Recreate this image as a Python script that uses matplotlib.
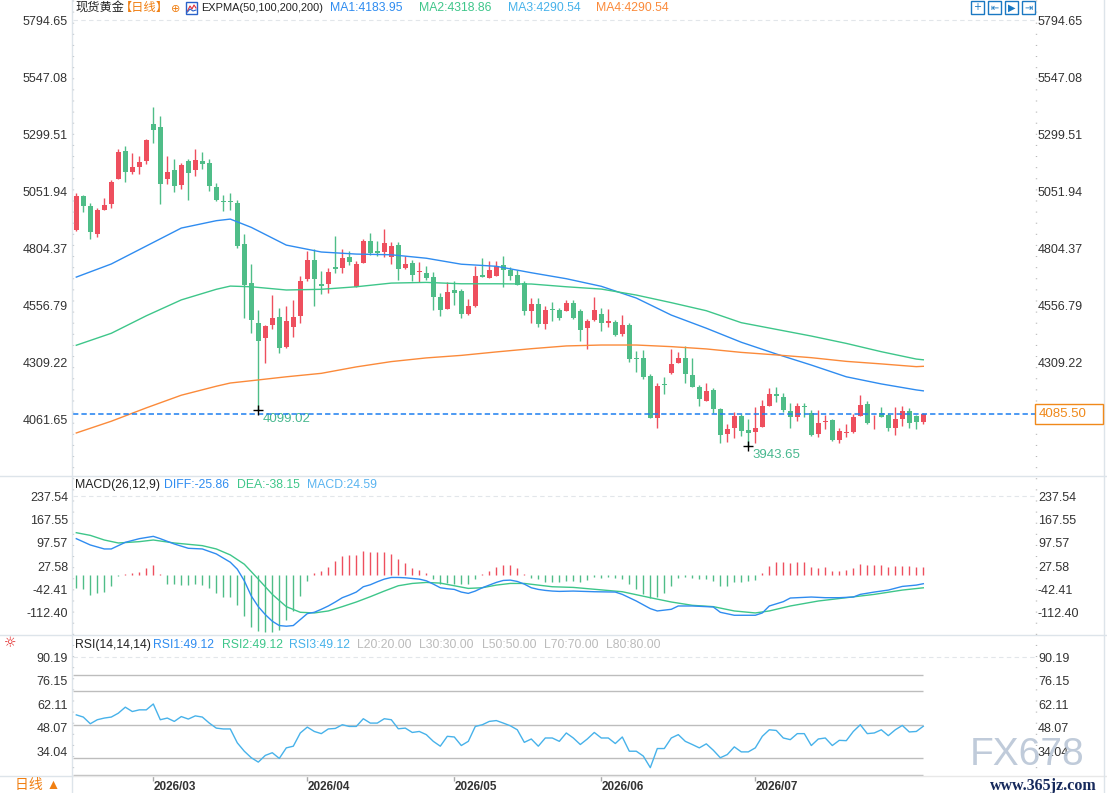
import numpy as np
import matplotlib
matplotlib.use('Agg')
import matplotlib.pyplot as plt
from matplotlib.lines import Line2D
from matplotlib.patches import Rectangle
from matplotlib.transforms import ScaledTranslation

plt.rcParams['font.family'] = ['Liberation Sans', 'Noto Sans CJK SC', 'DejaVu Sans']

# ---- 日线 K线数据 ----
opens = [4884, 5030, 4987, 4864, 4971, 4997, 5105, 5226, 5136, 5158,
         5182, 5343, 5330, 5105, 5143, 5079, 5182, 5144, 5182, 5174,
         5068, 5007, 5007, 4999, 4822, 4652, 4479, 4415, 4471, 4505,
         4376, 4461, 4510, 4670, 4751, 4647, 4647, 4722, 4719, 4765,
         4635, 4741, 4835, 4791, 4787, 4767, 4817, 4719, 4739, 4699,
         4696, 4678, 4592, 4541, 4622, 4618, 4519, 4552, 4687, 4675,
         4683, 4731, 4709, 4687, 4651, 4532, 4561, 4476, 4539, 4535,
         4532, 4565, 4531, 4458, 4493, 4518, 4480, 4483, 4432, 4470,
         4327, 4327, 4248, 4067, 4212, 4261, 4306, 4327, 4253, 4202,
         4141, 4188, 4105, 3998, 4024, 4075, 4013, 4006, 4028, 4119,
         4169, 4159, 4096, 4072, 4116, 4086, 3996, 4047, 4057, 3972,
         4000, 4005, 4076, 4127, 4047, 4086, 4078, 4024, 4060, 4096,
         4075, 4050]
highs = [5043, 5035, 5000, 4979, 5020, 5100, 5233, 5247, 5216, 5204,
         5278, 5418, 5378, 5204, 5190, 5175, 5190, 5233, 5221, 5190,
         5085, 5035, 5042, 5013, 4865, 4735, 4535, 4470, 4600, 4545,
         4552, 4577, 4683, 4793, 4800, 4704, 4719, 4857, 4800, 4790,
         4747, 4843, 4870, 4835, 4887, 4830, 4830, 4770, 4754, 4742,
         4726, 4699, 4609, 4657, 4660, 4626, 4583, 4726, 4762, 4748,
         4748, 4770, 4723, 4709, 4660, 4586, 4586, 4552, 4570, 4544,
         4579, 4579, 4538, 4495, 4592, 4544, 4539, 4492, 4513, 4477,
         4358, 4361, 4256, 4217, 4243, 4366, 4354, 4379, 4327, 4209,
         4217, 4195, 4111, 4039, 4092, 4082, 4060, 4114, 4144, 4195,
         4199, 4173, 4132, 4132, 4130, 4101, 4101, 4079, 4060, 4021,
         4040, 4082, 4166, 4141, 4079, 4115, 4086, 4115, 4118, 4109,
         4079, 4089]
lows = [4878, 4962, 4842, 4853, 4969, 4979, 5103, 5092, 5126, 5127,
        5168, 5262, 4997, 5084, 5049, 5061, 5014, 5118, 5149, 5053,
        5009, 4966, 4969, 4806, 4502, 4434, 4099.02, 4306, 4451, 4350,
        4372, 4419, 4480, 4662, 4554, 4603, 4608, 4697, 4697, 4732,
        4633, 4738, 4775, 4771, 4767, 4736, 4667, 4714, 4660, 4658,
        4665, 4536, 4510, 4538, 4558, 4502, 4515, 4550, 4678, 4673,
        4681, 4636, 4665, 4643, 4513, 4480, 4463, 4454, 4489, 4492,
        4530, 4498, 4402, 4367, 4489, 4445, 4461, 4423, 4423, 4311,
        4267, 4235, 4065, 4024, 4170, 4259, 4304, 4217, 4200, 4119,
        4139, 4089, 3959, 3963, 3980, 3987, 3943.65, 3956, 4026, 4117,
        4134, 4093, 4021, 4054, 4072, 3988, 3985, 4017, 3966, 3959,
        3982, 4000, 4074, 4040, 4018, 4069, 4011, 3992, 4031, 4021,
        4018, 4041]
closes = [5030, 4988, 4875, 4969, 4991, 5091, 5221, 5136, 5156, 5178,
          5273, 5318, 5084, 5134, 5075, 5165, 5131, 5187, 5171, 5075,
          5014, 5004, 5004, 4814, 4642, 4493, 4402, 4466, 4500, 4371,
          4487, 4505, 4661, 4751, 4670, 4641, 4699, 4714, 4761, 4745,
          4735, 4835, 4784, 4784, 4826, 4813, 4714, 4736, 4688, 4701,
          4675, 4593, 4536, 4613, 4610, 4519, 4552, 4683, 4680, 4709,
          4726, 4709, 4684, 4645, 4532, 4561, 4476, 4535, 4536, 4500,
          4565, 4500, 4450, 4487, 4535, 4480, 4487, 4428, 4470, 4322,
          4324, 4243, 4067, 4205, 4209, 4301, 4327, 4256, 4202, 4150,
          4183, 4105, 3993, 4018, 4075, 4011, 4002, 4021, 4118, 4169,
          4160, 4102, 4072, 4118, 4113, 3993, 4043, 4052, 3972, 4010,
          4004, 4072, 4122, 4043, 4050, 4072, 4024, 4062, 4096, 4043,
          4050, 4085.50]

# EXPMA(50,100,200,200) sampled along the lines
ma_idx = [0, 5, 10, 15, 20, 22, 25, 30, 35, 40, 45, 50, 55, 60, 65, 70,
          75, 80, 85, 90, 95, 100, 105, 110, 115, 120, 121]
ma1 = [4678, 4735, 4813, 4891, 4923, 4930, 4894, 4817, 4787, 4778, 4775,
       4760, 4734, 4725, 4697, 4671, 4638, 4587, 4513, 4456, 4395, 4344,
       4296, 4245, 4214, 4188, 4183.95]
ma2 = [4382, 4434, 4510, 4579, 4625, 4639, 4636, 4622, 4625, 4636, 4652,
       4655, 4649, 4649, 4648, 4636, 4626, 4600, 4567, 4532, 4480, 4451,
       4422, 4390, 4354, 4322, 4318.86]
ma4 = [4001, 4052, 4110, 4165, 4204, 4218, 4228, 4245, 4260, 4288, 4311,
       4327, 4338, 4353, 4367, 4379, 4383, 4383, 4376, 4366, 4351, 4340,
       4328, 4312, 4301, 4289, 4290.54]

# MACD(26,12,9)
macd_hist = [-38, -41, -61, -53, -51, -32, -4, 2, 6, 10,
             22, 30, 3, -27, -27, -30, -29, -27, -30, -38,
             -53, -65, -66, -91, -124, -155, -168, -172, -172, -165,
             -134, -108, -63, -17, 6, 14, 25, 43, 58, 61,
             61, 73, 70, 69, 70, 63, 49, 37, 21, 15,
             6, -12, -27, -24, -27, -27, -27, -12, 4, 12,
             26, 30, 30, 23, 3, -10, -12, -20, -22, -22,
             -17, -17, -20, -14, -7, -10, -7, -10, -12, -27,
             -43, -58, -68, -65, -53, -32, -10, -7, -10, -12,
             -12, -17, -32, -32, -22, -22, -19, -14, 6, 28,
             39, 41, 37, 39, 41, 26, 23, 26, 13, 13,
             15, 22, 33, 31, 30, 30, 26, 28, 28, 28,
             26, 24.59]
diff_idx = [0, 2, 4, 5, 6, 7, 9, 11, 12, 14, 16, 18, 20, 22, 23, 24, 25, 26,
            27, 28, 29, 30, 31, 32, 33, 34, 35, 36, 37, 38, 39, 40, 41, 42,
            43, 44, 45, 46, 47, 48, 49, 50, 51, 52, 53, 54, 55, 56, 57, 58,
            59, 60, 61, 62, 63, 64, 65, 66, 67, 68, 69, 71, 74, 77, 78, 80,
            82, 83, 85, 86, 88, 91, 92, 94, 97, 98, 99, 101, 102, 105, 107,
            109, 111, 112, 114, 116, 118, 120, 121]
diff_vals = [110, 91, 79, 79, 89, 99, 110, 117, 110, 94, 81, 79, 64, 39, 18,
             -17, -63, -95, -119, -139, -152, -154, -152, -134, -116, -112,
             -103, -93, -81, -68, -60, -51, -35, -29, -20, -12, -7, -7, -8,
             -10, -12, -17, -27, -38, -41, -43, -51, -55, -48, -38, -30, -22,
             -16, -15, -19, -27, -38, -43, -46, -48, -49, -48, -50, -51, -58,
             -78, -101, -108, -103, -93, -93, -96, -112, -121, -121, -114,
             -93, -80, -69, -66, -68, -68, -66, -58, -51, -45, -34, -30,
             -25.86]
dea_idx = [0, 2, 4, 6, 9, 11, 14, 18, 20, 22, 24, 26, 28, 30, 32, 34, 36,
           38, 40, 42, 44, 46, 48, 50, 52, 54, 56, 58, 60, 62, 64, 66, 68,
           71, 78, 82, 85, 88, 91, 94, 97, 99, 102, 106, 110, 114, 118, 121]
dea_vals = [128, 120, 106, 97, 101, 106, 97, 89, 79, 61, 33, -12, -58, -95,
            -112, -114, -108, -95, -81, -65, -48, -32, -25, -22, -24, -32,
            -40, -38, -30, -25, -25, -30, -35, -37, -50, -68, -81, -91, -95,
            -108, -114, -108, -93, -78, -68, -58, -45, -38.15]

# RSI(14,14,14)
rsi_vals = [55.9, 54.6, 50.6, 53, 54, 54.6, 56.9, 60.5, 57.9, 58.9,
            58.9, 62.4, 53, 54, 52, 54.9, 53.4, 55.3, 54.6, 51,
            48, 47.5, 47.5, 39.2, 34.2, 30.3, 27.7, 31.7, 33.3, 29.9,
            36.2, 37.2, 45.1, 48.6, 46, 44.7, 47.5, 47.8, 50, 49,
            49, 53.6, 51, 51, 53.6, 53, 47.6, 48, 45.4, 46,
            44.1, 40.1, 37.2, 43.1, 42.7, 37.6, 40.1, 49, 50, 52,
            52.5, 51, 49.4, 47, 39.5, 41.5, 37.2, 42.1, 42.1, 40.1,
            45.1, 42.1, 38.2, 41.5, 45.4, 42.1, 42.1, 38.8, 42.7, 34.2,
            34.2, 31.3, 24.4, 35.8, 35.8, 42.1, 44.1, 40.1, 38.2, 36.2,
            38.6, 34.8, 30.3, 32.2, 36.8, 33.8, 33.8, 36.2, 43.1, 47,
            46.6, 42.1, 41.1, 44.7, 44.7, 37.6, 41.5, 42.1, 37.6, 40.7,
            40.5, 46, 50, 44.7, 45.1, 47, 43.5, 47, 49.6, 45.7,
            46, 49.12]

price_ticks = [5794.65, 5547.08, 5299.51, 5051.94, 4804.37, 4556.79, 4309.22, 4061.65]
macd_ticks = [237.54, 167.55, 97.57, 27.58, -42.41, -112.40]
rsi_ticks = [90.19, 76.15, 62.11, 48.07, 34.04]
rsi_levels = [30, 50, 70, 80]
month_idx = [11, 33, 54, 75, 97]
month_labels = ['2026/03', '2026/04', '2026/05', '2026/06', '2026/07']
last_price = 4085.50
low_marks = [(26, 4099.02), (96, 3943.65)]

# ---- 颜色 ----
RED = '#ee4f5e'
GREEN = '#4fbd88'
BLUE = '#2f8cf0'
MGREEN = '#3ec68a'
ORANGE = '#fb8a3a'
LBLUE = '#47b2ea'
GRID = '#e2e6ea'
SEP = '#dde4ea'
TXT = '#333333'

W, H = 1107, 793
def fx(x):
    return x / W
def fy(y):
    return 1 - y / H

fig = plt.figure(figsize=(W / 100, H / 100), dpi=100)
fig.patch.set_facecolor('white')

L, R = 73, 1036
XL = (-0.471, 137.1)

def panel(top, bot):
    ax = fig.add_axes([fx(L), fy(bot), (R - L) / W, (bot - top) / H])
    ax.set_xlim(*XL)
    for s in ax.spines.values():
        s.set_visible(False)
    ax.set_facecolor('none')
    ax.tick_params(axis='y', left=False, right=False, length=0, labelleft=True,
                   labelright=False, labelsize=9, labelcolor=TXT, pad=3.6)
    return ax

def right_labels(ax, ticks, skip=()):
    # 右侧刻度文字
    tr = ax.get_yaxis_transform() + ScaledTranslation(2 / 100, 0, fig.dpi_scale_trans)
    for v in ticks:
        if v in skip:
            continue
        ax.text(1, v, f'{v:.2f}', transform=tr, ha='left', va='center_baseline',
                fontsize=9, color=TXT, clip_on=False)

ax = panel(2, 476)
ax_m = panel(478, 634)
ax_r = panel(636, 775)

idx = np.arange(len(closes))
o = np.array(opens, float)
c = np.array(closes, float)
hi = np.array(highs, float)
lo = np.array(lows, float)
cols = [RED if cc >= oo else GREEN for oo, cc in zip(o, c)]

# ---- 主图 ----
ax.set_ylim(3814.1, 5872.9)
ax.axhline(price_ticks[0], color=GRID, lw=0.8, ls=(0, (4, 3)))
ax.vlines(idx, lo, hi, colors=cols, lw=1, zorder=2)
body = np.maximum(np.abs(c - o), 3.5)
ax.bar(idx, body, bottom=np.minimum(o, c), width=0.72, color=cols, lw=0, zorder=3)
ax.plot(ma_idx, ma1, color=BLUE, lw=1, zorder=4)
ax.plot(ma_idx, ma2, color=MGREEN, lw=1, zorder=4)
ax.plot(ma_idx, ma4, color=ORANGE, lw=1, zorder=4)
ax.axhline(last_price, color='#1c7ef0', lw=1.1, ls=(0, (3.5, 2)), zorder=5)
for (i, p) in low_marks:
    ax.plot([i], [p], marker='+', color='black', ms=7, mew=1, zorder=6)
    ax.annotate(f'{p:.2f}', (i, p), xytext=(3.2, -6.3), textcoords='offset points',
                color='#48b88f', fontsize=9.5, ha='left', va='center')
ax.set_yticks(price_ticks)
ax.set_yticklabels([f'{v:.2f}' for v in price_ticks])
right_labels(ax, price_ticks, skip=(4061.65,))
ax.set_xticks([])

# ---- MACD ----
ax_m.set_ylim(-177.5, 293.0)
ax_m.axhline(macd_ticks[0], color=GRID, lw=0.8, ls=(0, (4, 3)))
hcols = [RED if v >= 0 else GREEN for v in macd_hist]
ax_m.vlines(idx, 0, macd_hist, colors=hcols, lw=1)
ax_m.plot(dea_idx, dea_vals, color=MGREEN, lw=1)
ax_m.plot(diff_idx, diff_vals, color=BLUE, lw=1)
ax_m.set_yticks(macd_ticks)
ax_m.set_yticklabels([f'{v:.2f}' for v in macd_ticks])
right_labels(ax_m, macd_ticks)
ax_m.set_xticks([])

# ---- RSI ----
ax_r.set_ylim(20, 103)
ax_r.axhline(rsi_ticks[0], color=GRID, lw=0.8, ls=(0, (4, 3)))
ax_r.hlines(rsi_levels, -0.45, idx[-1], color='#bdbdbd', lw=1)
ax_r.hlines([20], -0.45, idx[-1], color='#bdbdbd', lw=1, clip_on=False)
ax_r.plot(idx, rsi_vals, color=LBLUE, lw=1)
ax_r.set_yticks(rsi_ticks)
ax_r.set_yticklabels([f'{v:.2f}' for v in rsi_ticks])
right_labels(ax_r, rsi_ticks)
ax_r.set_xticks(month_idx)
ax_r.set_xticklabels(month_labels, fontweight='bold', fontsize=8.5, color=TXT)
ax_r.tick_params(axis='x', bottom=True, length=4, width=1, color='#aaaaaa', pad=0.5)
for lb in ax_r.get_xticklabels():
    lb.set_ha('left')

# ---- 分隔线 ----
def fline(xs, ys, **kw):
    fig.add_artist(Line2D([fx(x) for x in xs], [fy(y) for y in ys], transform=fig.transFigure, **kw))

fline([0, W], [476.5, 476.5], color=SEP, lw=1)
fline([0, W], [635, 635], color=SEP, lw=1)
fline([0, 72], [775.5, 775.5], color=SEP, lw=1)
fline([72, W], [776, 776], color='#e8e8e8', lw=1)
fline([71.5, 71.5], [0, H], color=SEP, lw=1)
fline([1104, 1104], [0, H], color=SEP, lw=1)
fline([1036, 1036], [0, 776], color='#b5b5b5', lw=1, ls=(0, (0.7, 7.3)))
fline([73, 73], [0, 776], color='#c5cbd0', lw=1, ls=(0, (0.7, 7.3)))

# ---- 标题文字 ----
def ftxt(x, y, s, color, size=8.8, **kw):
    fig.text(fx(x), fy(y), s, color=color, fontsize=size, ha='left', va='center', **kw)

ftxt(75, 8, '现货黄金', '#222222')
ftxt(120, 8, '【日线】', '#f07f12')
ftxt(171, 9, '⊕', '#f07f12', size=8, family=['DejaVu Sans'])
fig.add_artist(Rectangle((fx(186), fy(14)), 11 / W, 12 / H, transform=fig.transFigure,
                         fill=False, ec='#2a62c9', lw=1))
fline([187.5, 190, 192, 194, 196], [11, 6, 9, 5, 8], color='#e0303a', lw=0.8)
fline([187.5, 190, 193, 196], [12, 9, 11, 10], color='#2a62c9', lw=0.8)
ftxt(201, 8, 'EXPMA(50,100,200,200)', '#222222', size=7.9)
ftxt(330, 8, 'MA1:4183.95', BLUE)
ftxt(419, 8, 'MA2:4318.86', MGREEN)
ftxt(508, 8, 'MA3:4290.54', LBLUE)
ftxt(596, 8, 'MA4:4290.54', ORANGE)

ftxt(75, 485, 'MACD(26,12,9)', '#222222')
ftxt(164, 485, 'DIFF:-25.86', BLUE)
ftxt(237, 485, 'DEA:-38.15', MGREEN)
ftxt(307, 485, 'MACD:24.59', '#5ab4f0')

ftxt(75, 645, 'RSI(14,14,14)', '#222222')
ftxt(153, 645, 'RSI1:49.12', BLUE)
ftxt(222, 645, 'RSI2:49.12', MGREEN)
ftxt(289, 645, 'RSI3:49.12', LBLUE)
for k, lv in enumerate([20, 30, 50, 70, 80]):
    ftxt(357 + k * 62.3, 645, f'L{lv}:{lv:.2f}', '#bbbbbb')
ftxt(4, 643, '☼', '#e02020', size=10, family=['DejaVu Sans'])
ftxt(15, 785, '日线 ▲', '#f07f12', size=10)

# 右上角按钮
for k, g in enumerate(['+', '⇤', '▶', '⇥']):
    x0 = 971 + k * 17
    fig.add_artist(Rectangle((fx(x0), fy(14)), 13 / W, 13 / H, transform=fig.transFigure,
                             fill=False, ec='#1a78c2', lw=1))
    fig.text(fx(x0 + 6.5), fy(7.5), g, color='#1a78c2', fontsize=7, ha='center', va='center',
             family=['DejaVu Sans'])

# 最新价标签
fig.add_artist(Rectangle((fx(1035), fy(424)), 68 / W, 20 / H, transform=fig.transFigure,
                         fill=True, fc='white', ec='#f0891a', lw=1, zorder=5))
fig.text(fx(1039), fy(414), f'{last_price:.2f}', color='#f0891a', fontsize=9.5,
         ha='left', va='center', zorder=6)
fig.add_artist(Line2D([fx(1098)], [fy(409)], marker='^', ms=5, color='#f0891a',
                      transform=fig.transFigure))

# 水印
fig.text(fx(1027), fy(755), 'FX678', color='#b9c6d6', fontsize=28, ha='center', va='center',
         alpha=0.9, zorder=10)
fig.text(fx(1043), fy(786), 'www.365jz.com', color='#172a5c', fontsize=11.5, ha='center',
         va='center', family=['Liberation Serif'], fontweight='bold', zorder=10)

fig.savefig('out.png', dpi=100)
